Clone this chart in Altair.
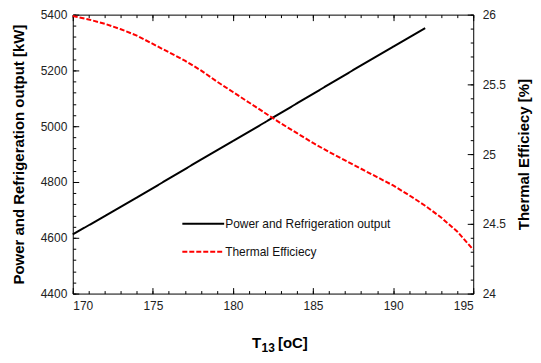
import altair as alt
import pandas as pd

# ---- data ----
T_power = [170, 172, 174, 176, 178, 180, 182, 184, 186, 188, 190, 192]
power = [4612, 4678, 4744, 4812, 4880, 4947, 5014, 5082, 5150, 5218, 5285, 5352]

T_eff = list(range(170, 196))
eff = [25.99, 25.965, 25.935, 25.895, 25.85, 25.79, 25.73, 25.67, 25.60, 25.52,
       25.445, 25.37, 25.295, 25.22, 25.15, 25.08, 25.015, 24.955, 24.895, 24.835,
       24.775, 24.705, 24.63, 24.545, 24.445, 24.315]

series_names = ["Power and Refrigeration output", "Thermal Efficiecy"]

x_major = [170, 175, 180, 185, 190, 195]
x_minor = list(range(170, 196))
yl_major = [4400, 4600, 4800, 5000, 5200, 5400]
yl_minor = list(range(4400, 5401, 40))
yr_major = [24, 24.5, 25, 25.5, 26]
yr_minor = [round(24 + 0.1 * i, 1) for i in range(21)]

x_title_parts = ["T", "13", "[oC]"]

df_p = pd.DataFrame({"T": T_power, "v": power, "series": series_names[0]})
df_e = pd.DataFrame({"T": T_eff, "v": eff, "series": series_names[1]})

FONT = "Liberation Sans"
LBL = "#222222"
W, H = 402, 280

xdom = alt.Scale(domain=[170, 195], nice=False, zero=False)
yl_scale = alt.Scale(domain=[4400, 5400], nice=False, zero=False)
yr_scale = alt.Scale(domain=[24, 26], nice=False, zero=False)

leg = alt.Legend(title=None, rowPadding=-4)
color = alt.Color("series:N", scale=alt.Scale(domain=series_names, range=["#000000", "#ff0000"]),
                  legend=leg)
dash = alt.StrokeDash("series:N", scale=alt.Scale(domain=series_names, range=[[1, 0], [5, 2]]),
                      legend=leg)

def major_axis(orient, values, labels=True, title=None, **kw):
    return alt.Axis(orient=orient, values=values, tickSize=6, offset=-6, domain=False,
                    grid=False, labels=labels, tickColor="black", tickWidth=1,
                    labelFont=FONT, labelFontSize=12, labelColor=LBL,
                    title=title, titleFont=FONT, titleFontSize=15, titleFontWeight="bold",
                    titleColor="black", **kw)

def minor_axis(orient, values):
    return alt.Axis(orient=orient, values=values, tickSize=3, offset=-3, domain=False,
                    grid=False, labels=False, tickColor="black", tickWidth=1, title=None)

l1 = alt.Chart(df_p).mark_line(strokeWidth=2).encode(
    x=alt.X("T:Q", scale=xdom, axis=major_axis("bottom", x_major, labelPadding=7)),
    y=alt.Y("v:Q", scale=yl_scale,
            axis=major_axis("left", yl_major, title="Power and Refrigeration output [kW]",
                            labelPadding=6, titlePadding=14, format="d")),
    color=color, strokeDash=dash,
)

l2 = alt.Chart(df_e).mark_line(strokeWidth=2).encode(
    x=alt.X("T:Q", scale=xdom, axis=major_axis("top", x_major, labels=False)),
    y=alt.Y("v:Q", scale=yr_scale,
            axis=major_axis("right", yr_major, title="Thermal Efficiecy [%]",
                            labelPadding=9, titlePadding=26, titleAngle=270, format="~g")),
    color=color, strokeDash=dash,
)

l3 = alt.Chart(df_p).mark_line(opacity=0).encode(
    x=alt.X("T:Q", scale=xdom, axis=minor_axis("bottom", x_minor)),
    y=alt.Y("v:Q", scale=yl_scale, axis=minor_axis("left", yl_minor)),
)

l4 = alt.Chart(df_e).mark_line(opacity=0).encode(
    x=alt.X("T:Q", scale=xdom, axis=minor_axis("top", x_minor)),
    y=alt.Y("v:Q", scale=yr_scale, axis=minor_axis("right", yr_minor)),
)

# x-axis title with a real subscript, built from three text pieces
t_main = alt.Chart(pd.DataFrame({"t": [x_title_parts[0]]})).mark_text(
    font=FONT, fontSize=15, fontWeight="bold", align="left", baseline="alphabetic", color="black"
).encode(x=alt.value(180), y=alt.value(335), text="t:N")
t_sub = alt.Chart(pd.DataFrame({"t": [x_title_parts[1]]})).mark_text(
    font=FONT, fontSize=12, fontWeight="bold", align="left", baseline="alphabetic", color="black"
).encode(x=alt.value(189.5), y=alt.value(339), text="t:N")
t_unit = alt.Chart(pd.DataFrame({"t": [x_title_parts[2]]})).mark_text(
    font=FONT, fontSize=15, fontWeight="bold", align="left", baseline="alphabetic", color="black"
).encode(x=alt.value(206), y=alt.value(335), text="t:N")

chart = alt.layer(l1, l2, l3, l4, t_main, t_sub, t_unit).resolve_scale(y="independent").resolve_axis(
    x="independent", y="independent"
).properties(
    width=W, height=H,
    autosize=alt.AutoSizeParams(type="none"),
    padding={"left": 65, "top": 6, "right": 60, "bottom": 61},
    background="white",
).configure_view(stroke="black", strokeWidth=1).configure_legend(
    orient="none", legendX=109, legendY=188, symbolType="stroke", symbolSize=1764,
    symbolStrokeWidth=2, labelFont=FONT, labelFontSize=12, labelColor="#111111",
    labelOffset=0, padding=0, labelLimit=400,
)

chart.save("out.html", embed_options={"renderer": "svg", "actions": False})
